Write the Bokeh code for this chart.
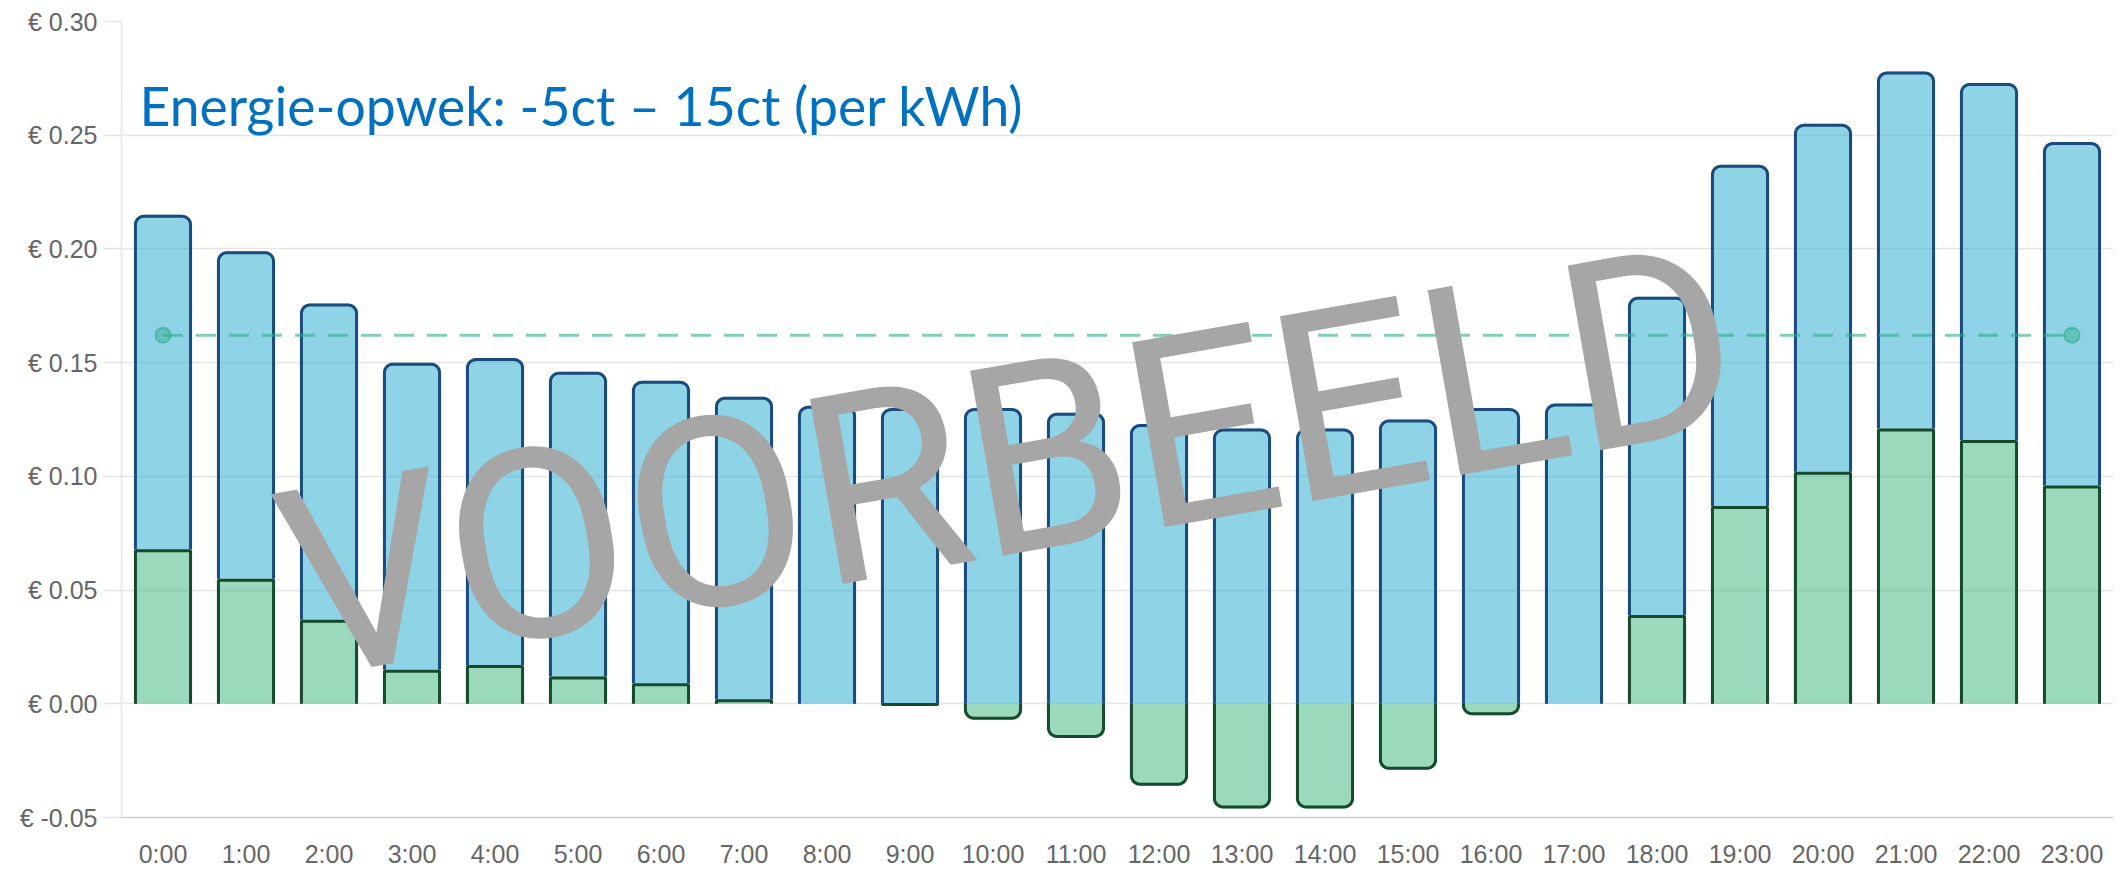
import math
from bokeh.plotting import figure
from bokeh.models import Range1d, FixedTicker, Label
from bokeh.embed import file_html
from bokeh.resources import INLINE

# ---------------- data ----------------
hours = ["0:00", "1:00", "2:00", "3:00", "4:00", "5:00", "6:00", "7:00",
         "8:00", "9:00", "10:00", "11:00", "12:00", "13:00", "14:00", "15:00",
         "16:00", "17:00", "18:00", "19:00", "20:00", "21:00", "22:00", "23:00"]
# top of the blue (stacked) bar, in euro per kWh
bar_top = [0.215, 0.199, 0.176, 0.150, 0.152, 0.146, 0.142, 0.135,
           0.131, 0.130, 0.130, 0.128, 0.123, 0.121, 0.121, 0.125,
           0.130, 0.132, 0.179, 0.237, 0.255, 0.278, 0.273, 0.247]
# energy (opwek) part, green bars
opwek = [0.068, 0.055, 0.037, 0.015, 0.017, 0.012, 0.009, 0.002,
         0.000, -0.001, -0.007, -0.015, -0.036, -0.046, -0.046, -0.029,
         -0.005, 0.000, 0.039, 0.087, 0.102, 0.121, 0.116, 0.096]
avg_price = 0.162
y_ticks = [-0.05, 0.0, 0.05, 0.1, 0.15, 0.2, 0.25, 0.3]
y_tick_labels = ["€ -0.05", "€ 0.00", "€ 0.05", "€ 0.10", "€ 0.15",
                 "€ 0.20", "€ 0.25", "€ 0.30"]
title_text = "Energie-opwek: -5ct – 15ct (per kWh)"
watermark_text = "VOORBEELD"

# ---------------- layout / style ----------------
W, H = 2121, 870
ML, MR, MT, MB = 121, 8, 21, 51
X0, X1 = -0.5, 23.5
Y0, Y1 = -0.05, 0.30
FW, FH = W - ML - MR, H - MT - MB
PX = (X1 - X0) / FW      # data units per screen pixel (x)
PY = (Y1 - Y0) / FH      # data units per screen pixel (y)
BAR_W = 0.70
R = 10                   # corner radius, px
LW = 3.0

BLUE_FILL = "#1fa7cd"
BLUE_LINE = "#1b4a7c"
GREEN_FILL = "#35b377"
GREEN_LINE = "#164a2c"
AVG_COLOR = "#2fae8e"
GRID = "#e4e4e4"
LABEL = "#666666"

x_idx = list(range(len(hours)))


def outline(xc, base, end, radius):
    """Open outline of a bar segment (no edge at its base), rounded at its end."""
    sgn = 1.0 if end >= base else -1.0
    inset = LW / 2.0
    hw = BAR_W / 2.0 - inset * PX
    end_i = end - sgn * inset * PY
    h_px = abs(end_i - base) / PY
    r = max(0.0, min(radius - inset, h_px, hw / PX))
    xl, xr = xc - hw, xc + hw
    xs, ys = [xl], [base]
    if r > 0.3:
        n = 10
        cy = end_i - sgn * r * PY
        cx = xl + r * PX
        for k in range(n + 1):
            t = math.pi - (math.pi / 2) * k / n
            xs.append(cx + r * PX * math.cos(t))
            ys.append(cy + sgn * r * PY * math.sin(t))
        cx = xr - r * PX
        for k in range(n + 1):
            t = math.pi / 2 - (math.pi / 2) * k / n
            xs.append(cx + r * PX * math.cos(t))
            ys.append(cy + sgn * r * PY * math.sin(t))
    else:
        xs += [xl, xr]
        ys += [end_i, end_i]
    xs.append(xr)
    ys.append(base)
    return xs, ys


p = figure(width=W, height=H, x_range=Range1d(X0, X1), y_range=Range1d(Y0, Y1),
           output_backend="svg", toolbar_location=None,
           min_border_left=ML, min_border_right=MR, min_border_top=MT,
           min_border_bottom=MB, background_fill_color="white")
p.outline_line_color = None

# axes
p.xaxis.ticker = FixedTicker(ticks=x_idx)
p.xaxis.major_label_overrides = dict(zip(x_idx, hours))
p.yaxis.ticker = FixedTicker(ticks=y_ticks)
p.yaxis.major_label_overrides = dict(zip(y_ticks, y_tick_labels))
for ax in (p.xaxis[0], p.yaxis[0]):
    ax.major_label_text_font = "Liberation Sans"
    ax.major_label_text_font_size = "25px"
    ax.major_label_text_color = LABEL
    ax.minor_tick_line_color = None
p.xaxis.major_tick_line_color = None
p.xaxis.major_tick_out = 0
p.xaxis.major_tick_in = 0
p.xaxis.major_label_standoff = 22
p.xaxis.axis_line_color = "#cfcfcf"
p.xaxis.axis_line_width = 1.5
p.yaxis.major_tick_out = 18
p.yaxis.major_tick_in = 0
p.yaxis.major_tick_line_color = GRID
p.yaxis.major_tick_line_width = 1.5
p.yaxis.major_label_standoff = 6
p.yaxis.axis_line_color = GRID
p.yaxis.axis_line_width = 1.5

p.xgrid.grid_line_color = None
p.ygrid.ticker = FixedTicker(ticks=y_ticks)
p.ygrid.grid_line_color = GRID
p.ygrid.grid_line_width = 1.5

# blue bars (stacked on top of positive green)
blue_bottom = [max(g, 0.0) for g in opwek]
p.vbar(x=x_idx, width=BAR_W, bottom=blue_bottom, top=bar_top,
       fill_color=BLUE_FILL, fill_alpha=0.5, line_color=None,
       border_radius=(R, R, 0, 0))

# green bars
pos = [i for i, g in enumerate(opwek) if g > 0]
neg = [i for i, g in enumerate(opwek) if g < 0]
p.vbar(x=pos, width=BAR_W, bottom=0, top=[opwek[i] for i in pos],
       fill_color=GREEN_FILL, fill_alpha=0.5, line_color=None)
p.vbar(x=neg, width=BAR_W, bottom=[opwek[i] for i in neg], top=0,
       fill_color=GREEN_FILL, fill_alpha=0.5, line_color=None,
       border_radius=(0, 0, R, R))

# outlines (no edge on the base side, like the original)
bxs, bys = [], []
for i in x_idx:
    xs, ys = outline(i, blue_bottom[i], bar_top[i], R)
    bxs.append(xs)
    bys.append(ys)
p.multi_line(xs=bxs, ys=bys, line_color=BLUE_LINE, line_width=LW)

gxs, gys = [], []
for i in pos + neg:
    g = opwek[i]
    xs, ys = outline(i, 0.0, g, R if g < 0 else 0)
    gxs.append(xs)
    gys.append(ys)
p.multi_line(xs=gxs, ys=gys, line_color=GREEN_LINE, line_width=LW)

# average price line
ends = [x_idx[0], x_idx[-1]]
p.line(x=ends, y=[avg_price, avg_price], line_color=AVG_COLOR, line_alpha=0.6,
       line_width=3, line_dash="20 13")
p.scatter(x=ends, y=[avg_price, avg_price], marker="circle", size=15,
          fill_color=AVG_COLOR, fill_alpha=0.45, line_color=AVG_COLOR,
          line_alpha=0.6, line_width=2)

# title text inside the plot
p.add_layout(Label(x=-0.283, y=0.2632, text=title_text, text_font="Lato",
                   text_font_size="53.5px", text_color="#0070C0",
                   text_align="left", text_baseline="alphabetic"))

# watermark
p.add_layout(Label(x=10.19, y=0.106, text=watermark_text,
                   text_font="Roboto", text_font_size="264px",
                   text_color="#a6a6a6", text_align="center",
                   text_baseline="middle", angle=10, angle_units="deg"))

open("out.html", "w").write(file_html(p, INLINE))
